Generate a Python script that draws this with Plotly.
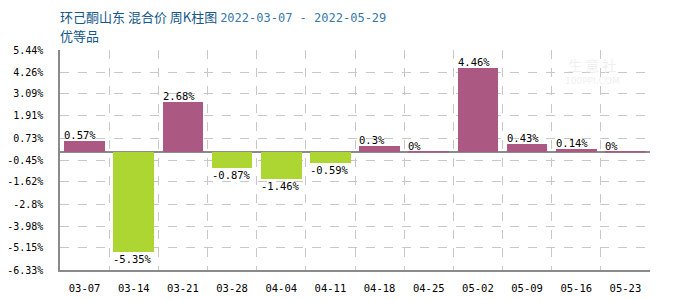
import plotly.graph_objects as go

weeks = ["03-07", "03-14", "03-21", "03-28", "04-04", "04-11",
         "04-18", "04-25", "05-02", "05-09", "05-16", "05-23"]
changes = [0.57, -5.35, 2.68, -0.87, -1.46, -0.59, 0.3, 0, 4.46, 0.43, 0.14, 0]
y_ticks = [5.44, 4.26, 3.09, 1.91, 0.73, -0.45, -1.62, -2.8, -3.98, -5.15, -6.33]
y_tick_text = ["5.44%", "4.26%", "3.09%", "1.91%", "0.73%", "-0.45%",
               "-1.62%", "-2.8%", "-3.98%", "-5.15%", "-6.33%"]

UP = "#AB5882"
DOWN = "#ADD633"
GRID = "#c8c8c8"
AXIS = "#8a8a8a"
MONO = "DejaVu Sans Mono"
BAR_W = 0.83

# plot area in pixels
L, R, T, B = 60, 650, 50, 270


def px_x(px):
    return (px - L) / (R - L)


def px_y(py):
    return (B - py) / (B - T)


xs = list(range(len(weeks)))
colors = [UP if v >= 0 else DOWN for v in changes]

fig = go.Figure()
fig.add_trace(go.Bar(
    x=xs, y=changes, width=BAR_W,
    marker=dict(color=colors, line=dict(width=0)),
    hoverinfo="skip",
))

# zero-valued weeks show a thin line on the zero axis
for x, v in zip(xs, changes):
    if v == 0:
        fig.add_shape(type="line", xref="x", yref="y",
                      x0=x - BAR_W / 2, x1=x + BAR_W / 2, y0=0, y1=0,
                      line=dict(color=UP, width=1.5))

for x, v in zip(xs, changes):
    txt = f"{v:g}%"
    fig.add_annotation(
        x=x - BAR_W / 2, y=v, xref="x", yref="y",
        text=txt, showarrow=False,
        xanchor="left",
        yanchor="bottom" if v >= 0 else "top",
        yshift=-2 if v >= 0 else 1,
        xshift=-2,
        font=dict(family=MONO, size=10.5, color="#000000"),
    )

# title
fig.add_annotation(
    x=px_x(58), y=px_y(16), xref="paper", yref="paper", showarrow=False,
    text="环己酮山东 混合价 周K柱图 "
         "<span style='font-family:DejaVu Sans Mono;font-size:12px;color:#3b78ab'>2022-03-07 - 2022-05-29</span>",
    xanchor="left", yanchor="middle",
    font=dict(family="Noto Sans CJK SC", size=13, color="#14578a"),
)
fig.add_annotation(
    x=px_x(58), y=px_y(36), xref="paper", yref="paper", showarrow=False,
    text="优等品", xanchor="left", yanchor="middle",
    font=dict(family="Noto Sans CJK SC", size=13, color="#14578a"),
)

# watermark
fig.add_annotation(
    x=px_x(592), y=px_y(65), xref="paper", yref="paper", showarrow=False,
    text="生 意 社", xanchor="center", yanchor="middle",
    font=dict(family="Noto Sans CJK SC", size=14, color="#f0f0f0"),
)
fig.add_annotation(
    x=px_x(592), y=px_y(81), xref="paper", yref="paper", showarrow=False,
    text="100PPI.COM", xanchor="center", yanchor="middle",
    font=dict(family="DejaVu Sans", size=9, color="#f0f0f0"),
)

fig.update_layout(
    width=700, height=300,
    margin=dict(l=L, r=700 - R, t=T, b=300 - B, pad=0, autoexpand=False),
    paper_bgcolor="#ffffff", plot_bgcolor="#ffffff",
    showlegend=False,
    bargap=0,
)

fig.update_xaxes(
    range=[-0.5, len(weeks) - 0.5],
    tickvals=xs, ticktext=weeks,
    showgrid=False, zeroline=False,
    showline=True, linecolor=AXIS, linewidth=1.5,
    ticks="", ticklabelstandoff=8, automargin=False,
    tickfont=dict(family=MONO, size=10.5, color="#000000"),
    minor=dict(tickvals=[i + 0.5 for i in xs], showgrid=True,
               gridcolor=GRID, griddash="dash", gridwidth=1, ticks=""),
    fixedrange=True,
)
fig.update_yaxes(
    range=[y_ticks[-1], y_ticks[0]],
    tickvals=y_ticks, ticktext=y_tick_text,
    showgrid=True, gridcolor=GRID, griddash="dash", gridwidth=1,
    zeroline=True, zerolinecolor=AXIS, zerolinewidth=1.5,
    showline=True, linecolor=AXIS, linewidth=1.5,
    ticks="", ticklabelstandoff=13, automargin=False,
    tickfont=dict(family=MONO, size=10, color="#000000"),
    fixedrange=True,
)

fig.write_html(
    "out.html",
    config={"displayModeBar": False},
    post_script="document.body.style.margin='0';document.body.style.overflow='hidden';",
)
